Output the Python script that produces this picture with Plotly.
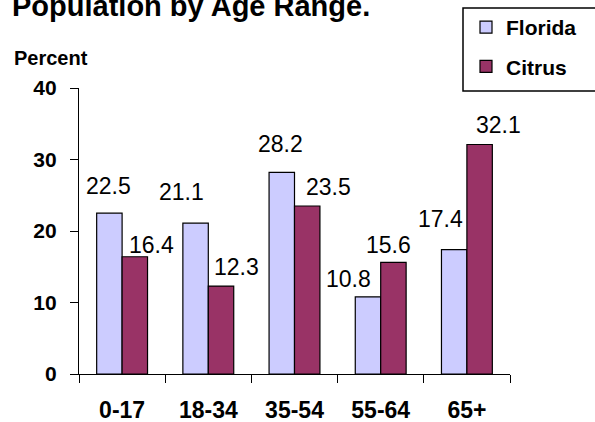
import plotly.graph_objects as go

# ---- data ----
categories = ["0-17", "18-34", "35-54", "55-64", "65+"]
florida = [22.5, 21.1, 28.2, 10.8, 17.4]
citrus = [16.4, 12.3, 23.5, 15.6, 32.1]
series_names = ["Florida", "Citrus"]
y_ticks = [0, 10, 20, 30, 40]

# ---- styles ----
FONT = "Liberation Sans, Arial, sans-serif"
colors = ["#CCCCFF", "#993366"]
# per-label nudges (px) relative to bar top centre: (dx, dy)
florida_nudge = [(-1, 27), (-14, 31), (-2, 28), (-20, 18), (-14, 31)]
citrus_nudge = [(17, 12), (16, 19), (21, 19), (-5, 17), (19, 19)]
bar_half = 12.5

W, H = 595, 422
L, R, T, B = 79, 85, 88, 48
pw, ph = W - L - R, H - T - B


def px_x(px):
    return (px - L) / pw


def px_y(py):
    return (H - B - py) / ph


fig = go.Figure()
for name, vals, col in zip(series_names, [florida, citrus], colors):
    fig.add_trace(go.Bar(
        x=categories, y=vals, name=name, legendgroup=name,
        marker=dict(color=col, line=dict(color="black", width=1.2)),
    ))

annotations = []
for vals, nudges, sign in [(florida, florida_nudge, -1), (citrus, citrus_nudge, 1)]:
    for cat, v, (dx, dy) in zip(categories, vals, nudges):
        annotations.append(dict(
            x=cat, y=v, xref="x", yref="y", text=f"{v:.1f}", showarrow=False,
            xanchor="center", yanchor="middle",
            xshift=sign * bar_half + dx, yshift=dy,
            font=dict(family=FONT, size=23, color="black"),
        ))

annotations.append(dict(
    x=px_x(12), y=px_y(58), xref="paper", yref="paper", text="Percent",
    showarrow=False, xanchor="left", yanchor="middle",
    font=dict(family=FONT, size=20, color="black", weight="bold"),
))
annotations.append(dict(
    x=px_x(10), y=px_y(6), xref="paper", yref="paper",
    text="Population by Age Range.",
    showarrow=False, xanchor="left", yanchor="middle",
    font=dict(family=FONT, size=29, color="black", weight="bold"),
))

fig.update_layout(
    width=W, height=H,
    margin=dict(l=L, r=R, t=T, b=B, pad=0, autoexpand=False),
    paper_bgcolor="white", plot_bgcolor="white",
    barmode="group", bargap=0.41, bargroupgap=0,
    showlegend=True,
    legend=dict(
        x=466 / W, y=1 - 7 / H, xref="container", yref="container",
        xanchor="left", yanchor="top",
        bgcolor="rgba(0,0,0,0)", borderwidth=0,
        font=dict(family=FONT, size=21, color="black", weight="bold"),
        traceorder="grouped", tracegroupgap=9,
    ),
    annotations=annotations,
    shapes=[dict(
        type="rect", xref="paper", yref="paper",
        x0=px_x(463), x1=px_x(640), y0=px_y(91), y1=px_y(8),
        line=dict(color="black", width=1.5), fillcolor="rgba(0,0,0,0)",
    )],
)

fig.update_xaxes(
    type="category", range=[-0.5, 4.5], automargin=False,
    showline=True, linecolor="black", linewidth=1.2,
    ticks="outside", tickson="boundaries", ticklen=8, tickcolor="black", tickwidth=1.2,
    ticklabelstandoff=15,
    tickfont=dict(family=FONT, size=23, color="black", weight="bold"),
    showgrid=False, zeroline=False,
)
fig.update_yaxes(
    range=[0, 40], tickvals=y_ticks, automargin=False,
    showline=True, linecolor="black", linewidth=1.2,
    ticks="outside", ticklen=8, tickcolor="black", tickwidth=1.2,
    ticklabelstandoff=9,
    tickfont=dict(family=FONT, size=21, color="black", weight="bold"),
    showgrid=False, zeroline=False,
)

fig.write_html("out.html", config={"displayModeBar": False},
               post_script="document.body.style.margin='0';")
